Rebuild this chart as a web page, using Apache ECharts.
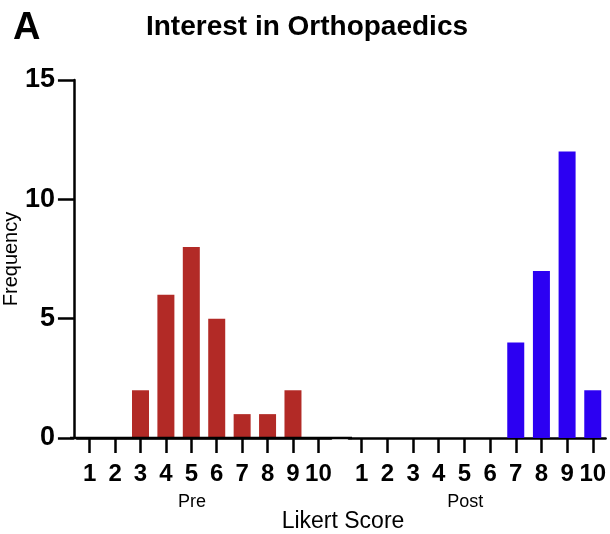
<!DOCTYPE html>
<html>
<head>
<meta charset="utf-8">
<script src="https://cdn.jsdelivr.net/npm/echarts@6/dist/echarts.min.js"></script>
<style>html,body{margin:0;padding:0;background:#fff;}#c{width:610px;height:534px;}</style>
</head>
<body>
<div id="c"></div>
<script>
const categories = ['1','2','3','4','5','6','7','8','9','10'];
const preValues = [0, 0, 2, 6, 8, 5, 1, 1, 2, 0];
const postValues = [0, 0, 0, 0, 0, 0, 4, 7, 12, 2];
const yTicks = { min: 0, max: 15, interval: 5 };
const groupNames = ['Pre', 'Post'];

const FONT = "'Liberation Sans', Arial, Helvetica, sans-serif";
const chart = echarts.init(document.getElementById('c'), null, { renderer: 'canvas' });

const axisLine = { show: true, lineStyle: { color: '#000', width: 2.5 } };
const xAxisBase = (idx, name) => ({
  type: 'category', gridIndex: idx, data: categories,
  axisLine: axisLine,
  axisTick: { show: true, alignWithLabel: true, length: 15, lineStyle: { color: '#000', width: 2.5 } },
  axisLabel: { margin: 24, color: '#000', fontSize: 24, fontWeight: 'bold', fontFamily: FONT, interval: 0 },
  name: name, nameLocation: 'middle', nameGap: 55,
  nameTextStyle: { fontSize: 18, color: '#000', fontFamily: FONT, padding: [0, 24, 0, 0] }
});

chart.setOption({
  animation: false,
  backgroundColor: '#fff',
  title: [
    { text: 'Interest in Orthopaedics', left: 302, top: 8, textAlign: 'center',
      textStyle: { fontSize: 28, fontWeight: 'bold', color: '#000', fontFamily: FONT } },
    { text: 'A', left: 8, top: 5,
      textStyle: { fontSize: 38, fontWeight: 'bold', color: '#000', fontFamily: FONT } },
    { text: 'Likert Score', left: 338, top: 505, textAlign: 'center',
      textStyle: { fontSize: 23, fontWeight: 'normal', color: '#000', fontFamily: FONT } }
  ],
  grid: [
    { left: 73.8, right: 278.9, top: 80, bottom: 96 },
    { left: 348.9, right: 4.4, top: 80, bottom: 96 }
  ],
  xAxis: [ xAxisBase(0, groupNames[0]), xAxisBase(1, groupNames[1]) ],
  yAxis: [
    { type: 'value', gridIndex: 0, min: yTicks.min, max: yTicks.max, interval: yTicks.interval, offset: 3,
      axisLine: axisLine,
      axisTick: { show: true, length: 16, lineStyle: { color: '#000', width: 2.5 } },
      axisLabel: { margin: 19, color: '#000', fontSize: 27, fontWeight: 'bold', fontFamily: FONT },
      splitLine: { show: false },
      name: 'Frequency', nameLocation: 'middle', nameGap: 46,
      nameTextStyle: { fontSize: 20, color: '#000', fontFamily: FONT } },
    { type: 'value', gridIndex: 1, min: yTicks.min, max: yTicks.max, interval: yTicks.interval,
      show: false, splitLine: { show: false } }
  ],
  graphic: [
    { type: 'line', shape: { x1: 70, y1: 438, x2: 352, y2: 438 }, style: { stroke: '#000', lineWidth: 2.5 }, z: 10 }
  ],
  series: [
    { type: 'bar', xAxisIndex: 0, yAxisIndex: 0, data: preValues, barWidth: 17,
      itemStyle: { color: '#B22A26' } },
    { type: 'bar', xAxisIndex: 1, yAxisIndex: 1, data: postValues, barWidth: 17,
      itemStyle: { color: '#2C00F2' } }
  ]
});
</script>
</body>
</html>
